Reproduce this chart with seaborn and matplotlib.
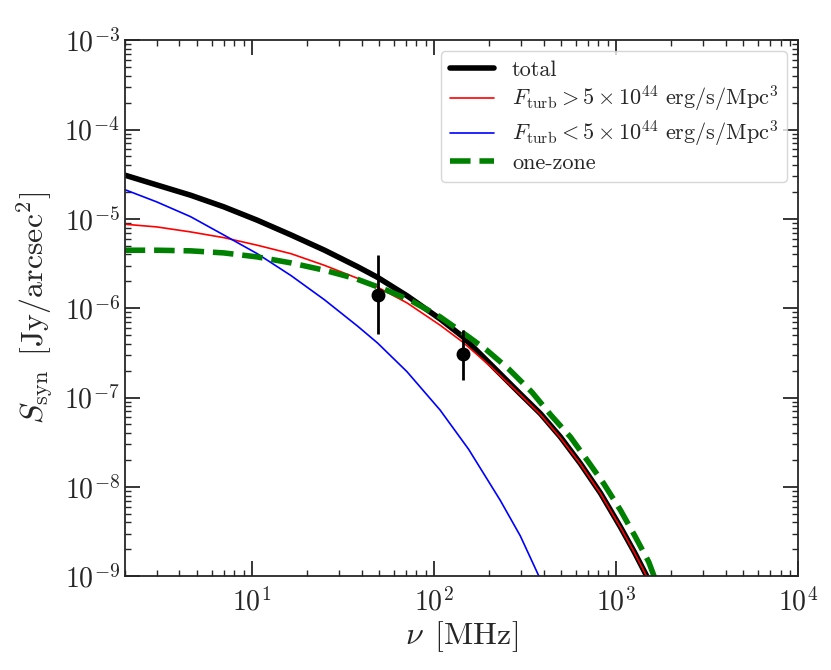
import numpy as np
import pandas as pd
import matplotlib
matplotlib.use("Agg")
import matplotlib.pyplot as plt
import seaborn as sns

# frequencies in MHz, log10 of surface brightness in Jy/arcsec^2
nu_total = [2, 3, 4.6, 7, 10.7, 16.4, 25, 38, 49, 71, 108, 144, 204, 298, 384, 494, 637, 821, 1057, 1260, 1449, 1550]
log_total = [-4.51, -4.62, -4.735, -4.865, -5.015, -5.18, -5.35, -5.535, -5.655, -5.86, -6.12, -6.32,
             -6.625, -6.96, -7.18, -7.44, -7.74, -8.07, -8.45, -8.73, -8.97, -9.09]

nu_high = [2, 3, 4.6, 7, 10.7, 16.4, 25, 38, 49, 71, 108, 144, 204, 298, 384, 494, 637, 821, 1057, 1260, 1449, 1550]
log_high = [-5.06, -5.09, -5.146, -5.21, -5.295, -5.39, -5.52, -5.665, -5.765, -5.94, -6.19, -6.38,
            -6.65, -6.97, -7.19, -7.45, -7.745, -8.075, -8.455, -8.735, -8.975, -9.095]

nu_low = [2, 3, 4.6, 7, 10.7, 16.4, 25, 38, 49, 71, 108, 155, 231, 298, 371, 400]
log_low = [-4.672, -4.81, -4.975, -5.18, -5.39, -5.635, -5.905, -6.20, -6.39, -6.71, -7.14, -7.58,
           -8.15, -8.55, -8.97, -9.11]

nu_one = [2, 3, 4.6, 7, 10.7, 16.4, 25, 37, 55, 74, 108, 155, 195, 257, 345, 439, 561, 698, 855, 1057, 1262, 1511, 1700]
log_one = [-5.351, -5.351, -5.358, -5.381, -5.426, -5.493, -5.575, -5.668, -5.799, -5.911, -6.097, -6.321,
           -6.47, -6.68, -6.94, -7.198, -7.441, -7.709, -7.963, -8.261, -8.541, -8.84, -9.12]

# observed points
obs_nu = [49, 144]
obs_S = [1.42e-6, 3.05e-7]
obs_lo = [5.08e-7, 1.59e-7]
obs_hi = [3.92e-6, 5.77e-7]

sns.set_style("ticks")
plt.rcParams['font.family'] = 'serif'
plt.rcParams['font.serif'] = ['cmr10', 'DejaVu Serif']
plt.rcParams['mathtext.fontset'] = 'cm'
plt.rcParams['axes.formatter.use_mathtext'] = True
plt.rcParams['axes.linewidth'] = 1.3

fig = plt.figure(figsize=(8.31, 6.70), dpi=100)
ax = fig.add_axes([0.150, 0.140, 0.8105, 0.80])

curves = [
    (nu_total, log_total, 'k', 4.0, '-', 'total'),
    (nu_high, log_high, 'red', 1.2, '-', r'$F_{\rm turb} > 5\times10^{44}\ {\rm erg/s/Mpc^3}$'),
    (nu_low, log_low, 'blue', 1.2, '-', r'$F_{\rm turb} < 5\times10^{44}\ {\rm erg/s/Mpc^3}$'),
    (nu_one, log_one, 'green', 4.0, '--', 'one-zone'),
]
for nu, logs, c, lw, ls, lab in curves:
    df = pd.DataFrame({'nu': nu, 'S': 10 ** np.array(logs)})
    sns.lineplot(data=df, x='nu', y='S', ax=ax, color=c, lw=lw, linestyle=ls,
                 label=lab, sort=False, errorbar=None)

S = np.array(obs_S)
yerr = [S - np.array(obs_lo), np.array(obs_hi) - S]
ax.errorbar(obs_nu, S, yerr=yerr, fmt='o', color='k', ms=9, elinewidth=2, capsize=0)

ax.set_xscale('log')
ax.set_yscale('log')
ax.set_xlim(2, 1e4)
ax.set_ylim(1e-9, 1e-3)
ax.set_xlabel(r'$\nu\ \,[{\rm MHz}]$', fontsize=23, labelpad=2)
ax.set_ylabel(r'$S_{\rm syn}\ \,[{\rm Jy/arcsec^2}]$', fontsize=23, labelpad=6)

ax.tick_params(which='both', direction='in', top=True, right=True, labelsize=20)
ax.tick_params(which='major', length=11, width=1.3)
ax.tick_params(which='minor', length=4.5, width=1.0)
ax.yaxis.set_major_locator(matplotlib.ticker.LogLocator(base=10, numticks=10))
ax.yaxis.set_minor_locator(matplotlib.ticker.LogLocator(base=10, subs=np.arange(2, 10), numticks=10))
ax.tick_params(axis='x', pad=8)

ax.legend(loc='upper right', fontsize=16, frameon=True, fancybox=True, labelspacing=0.2)

fig.savefig('out.png', dpi=100)
